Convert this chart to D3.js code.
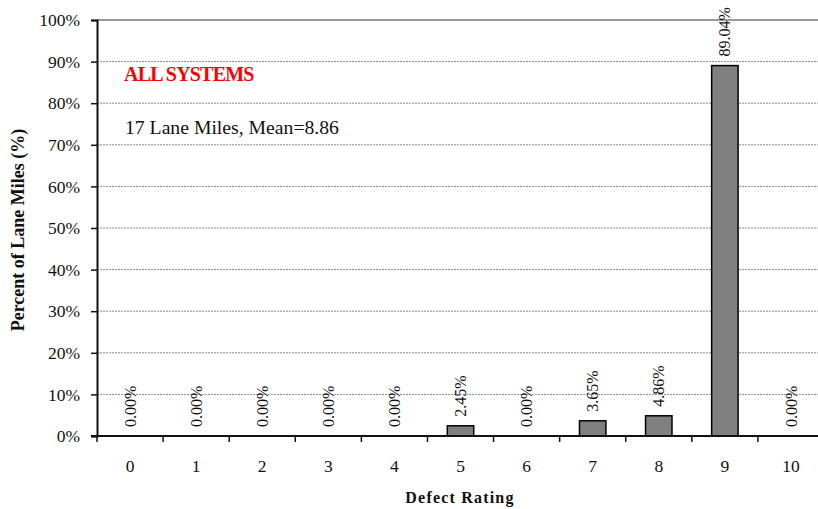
<!DOCTYPE html>
<html>
<head>
<meta charset="utf-8">
<script src="https://cdn.jsdelivr.net/npm/d3@7"></script>
<style>
  html, body { margin: 0; padding: 0; background: #fff; }
  svg { display: block; font-family: "Liberation Serif", "Times New Roman", serif; }
</style>
</head>
<body>
<svg id="chart" width="818" height="509"></svg>
<script>
// data
const ratings = ['0', '1', '2', '3', '4', '5', '6', '7', '8', '9', '10'];
const percents = [0, 0, 0, 0, 0, 2.45, 0, 3.65, 4.86, 89.04, 0];
const yTicks = [0, 10, 20, 30, 40, 50, 60, 70, 80, 90, 100];
const title = 'ALL SYSTEMS';
const subtitle = '17 Lane Miles, Mean=8.86';

const svg = d3.select('#chart');
const plotL = 97, plotR = 824, plotT = 20, plotB = 436;

const x = d3.scaleBand().domain(ratings).range([plotL, plotR]).padding(0);
const y = d3.scaleLinear().domain([0, 100]).range([plotB, plotT]);

// gridlines
svg.append('g')
  .selectAll('line')
  .data(yTicks.filter(d => d > 0))
  .join('line')
    .attr('x1', plotL).attr('x2', plotR)
    .attr('y1', d => y(d)).attr('y2', d => y(d))
    .attr('stroke', d => d === 100 ? '#777' : '#8a8a8a')
    .attr('stroke-width', d => d === 100 ? 1.5 : 1)
    .attr('stroke-dasharray', d => d === 100 ? null : '2,1');

// bars
const barW = x.bandwidth() * 0.4;
svg.append('g')
  .selectAll('rect')
  .data(percents.map((v, i) => ({ k: ratings[i], v })).filter(d => d.v > 0))
  .join('rect')
    .attr('x', d => x(d.k) + x.bandwidth() / 2 - barW / 2)
    .attr('y', d => y(d.v))
    .attr('width', barW)
    .attr('height', d => y(0) - y(d.v))
    .attr('fill', '#808080')
    .attr('stroke', '#000')
    .attr('stroke-width', 1.5);

// value labels, rotated
svg.append('g')
  .selectAll('text')
  .data(percents.map((v, i) => ({ k: ratings[i], v })))
  .join('text')
    .attr('transform', d => `translate(${x(d.k) + x.bandwidth() / 2},${y(d.v) - 9}) rotate(-90)`)
    .attr('dy', '0.35em')
    .attr('font-size', 16)
    .attr('fill', '#111')
    .text(d => d.v.toFixed(2) + '%');

// y axis
const yAxis = svg.append('g')
  .attr('transform', `translate(${plotL},0)`)
  .call(d3.axisLeft(y).tickValues(yTicks).tickFormat(d => d + '%').tickSize(6).tickPadding(11));
yAxis.select('.domain').attr('stroke', '#111').attr('stroke-width', 2);
yAxis.selectAll('.tick line').attr('stroke', '#111').attr('stroke-width', 1.5);
yAxis.selectAll('.tick text').attr('font-size', 17.5).attr('fill', '#111')
  .attr('font-family', '"Liberation Serif", "Times New Roman", serif');

// x axis: ticks on the band edges, labels at the centres
const xg = svg.append('g').attr('transform', `translate(0,${plotB})`);
xg.append('line').attr('x1', plotL - 6).attr('x2', plotR)
  .attr('stroke', '#111').attr('stroke-width', 2);
xg.selectAll('line.tk')
  .data(ratings)
  .join('line')
    .attr('class', 'tk')
    .attr('x1', d => x(d)).attr('x2', d => x(d))
    .attr('y1', 0).attr('y2', 6)
    .attr('stroke', '#111').attr('stroke-width', 1.5);
xg.selectAll('text')
  .data(ratings)
  .join('text')
    .attr('x', d => x(d) + x.bandwidth() / 2)
    .attr('y', 35.5)
    .attr('text-anchor', 'middle')
    .attr('font-size', 17.5)
    .attr('fill', '#111')
    .text(d => d);

// axis titles
svg.append('text')
  .attr('transform', 'translate(24,230) rotate(-90)')
  .attr('text-anchor', 'middle')
  .attr('font-size', 18)
  .attr('font-weight', 'bold')
  .attr('fill', '#111')
  .text('Percent of Lane Miles (%)');

svg.append('text')
  .attr('x', 460).attr('y', 503)
  .attr('text-anchor', 'middle')
  .attr('font-size', 16)
  .attr('font-weight', 'bold')
  .attr('letter-spacing', 1.2)
  .attr('fill', '#111')
  .text('Defect Rating');

// annotations
svg.append('text')
  .attr('x', 124).attr('y', 80.5)
  .attr('font-size', 20)
  .attr('font-weight', 'bold')
  .attr('letter-spacing', -0.8)
  .attr('fill', '#ff0000')
  .text(title);

svg.append('text')
  .attr('x', 125).attr('y', 134)
  .attr('font-size', 19.7)
  .attr('fill', '#111')
  .text(subtitle);
</script>
</body>
</html>
